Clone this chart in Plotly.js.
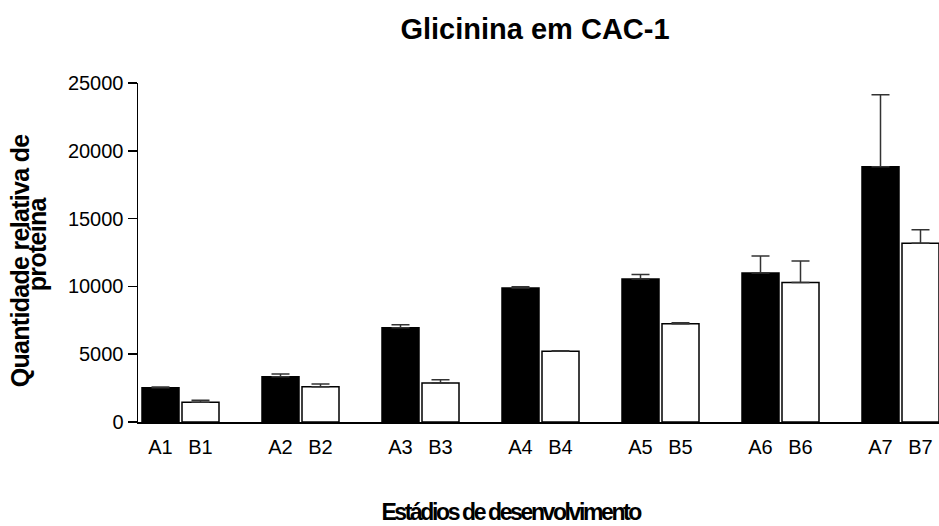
<!DOCTYPE html>
<html>
<head>
<meta charset="utf-8">
<script src="https://cdn.plot.ly/plotly-3.0.1.min.js"></script>
<style>
  html, body { margin: 0; padding: 0; background: #fff; }
  #chart { width: 939px; height: 526px; }
  /* tighter bold lettering for the axis titles */
  #chart g.annotation[data-index="0"] text,
  #chart g.annotation[data-index="1"] text { letter-spacing: -0.7px; }
  #chart g.annotation[data-index="2"] text { letter-spacing: -2.4px; }
</style>
</head>
<body>
<div id="chart"></div>
<script>
// Stage labels for the two series
const labelsA = ['A1', 'A2', 'A3', 'A4', 'A5', 'A6', 'A7'];
const labelsB = ['B1', 'B2', 'B3', 'B4', 'B5', 'B6', 'B7'];

// Relative protein amount (mean) and upper error (SEM)
const valuesA = [2530, 3340, 6950, 9880, 10550, 10990, 18830];
const errorsA = [60, 200, 225, 100, 320, 1250, 5300];
const valuesB = [1450, 2600, 2880, 5210, 7250, 10280, 13180];
const errorsB = [150, 200, 245, 50, 70, 1600, 1000];

// Y axis ticks
const yTicks = [0, 5000, 10000, 15000, 20000, 25000];

// Category order: A, B, then an empty spacer slot between stages
const categoryOrder = [];
labelsA.forEach((a, i) => {
  categoryOrder.push(a, labelsB[i]);
  if (i < labelsA.length - 1) categoryOrder.push('gap' + i);
});
const tickLabels = [];
labelsA.forEach((a, i) => tickLabels.push(a, labelsB[i]));

const FONT = '"Liberation Sans", Arial, Helvetica, sans-serif';
const errStyle = { type: 'data', symmetric: false, color: '#333', thickness: 1.5, width: 9 };

const traces = [
  {
    type: 'bar', x: labelsA, y: valuesA, width: 0.925,
    marker: { color: '#000', line: { color: '#000', width: 1.5 } },
    error_y: Object.assign({}, errStyle, { array: errorsA, arrayminus: labelsA.map(() => 0) }),
    hoverinfo: 'x+y'
  },
  {
    type: 'bar', x: labelsB, y: valuesB, width: 0.925,
    marker: { color: '#fff', line: { color: '#000', width: 1.5 } },
    error_y: Object.assign({}, errStyle, { array: errorsB, arrayminus: labelsB.map(() => 0) }),
    hoverinfo: 'x+y'
  }
];

const layout = {
  width: 939, height: 526,
  margin: { l: 138, r: 0, t: 83, b: 104, pad: 0 },
  paper_bgcolor: '#fff', plot_bgcolor: '#fff',
  showlegend: false,
  barmode: 'overlay',
  font: { family: FONT, color: '#000', size: 20 },
  title: {
    text: '<b>Glicinina em CAC-1</b>',
    font: { family: FONT, size: 29, color: '#000' },
    x: 535 / 939, xanchor: 'center', xref: 'container',
    y: 1 - 29 / 526, yanchor: 'middle', yref: 'container'
  },
  xaxis: {
    type: 'category',
    categoryorder: 'array', categoryarray: categoryOrder,
    range: [-0.5625, 19.4625],
    tickvals: tickLabels, ticktext: tickLabels,
    ticks: '', ticklabelstandoff: 6,
    showline: true, linecolor: '#000', linewidth: 2,
    showgrid: false, zeroline: false,
    tickfont: { size: 20 }
  },
  yaxis: {
    range: [0, 25000],
    tickvals: yTicks, ticktext: yTicks.map(String),
    ticks: 'outside', ticklen: 9, tickwidth: 1.5, tickcolor: '#000',
    showline: true, linecolor: '#000', linewidth: 1.5,
    showgrid: false, zeroline: false,
    tickfont: { size: 20 }
  },
  annotations: [
    {
      text: '<b>Quantidade relativa de</b>', textangle: -90,
      xref: 'paper', yref: 'paper', x: (20 - 138) / 801, y: (422 - 261) / 339,
      xanchor: 'center', yanchor: 'middle', showarrow: false,
      font: { family: FONT, size: 25, color: '#000' }
    },
    {
      text: '<b>proteína</b>', textangle: -90,
      xref: 'paper', yref: 'paper', x: (37 - 138) / 801, y: (422 - 244) / 339,
      xanchor: 'center', yanchor: 'middle', showarrow: false,
      font: { family: FONT, size: 25, color: '#000' }
    },
    {
      text: '<b>Estádios de desenvolvimento</b>',
      xref: 'paper', yref: 'paper', x: (510 - 138) / 801, y: (422 - 512) / 339,
      xanchor: 'center', yanchor: 'middle', showarrow: false,
      font: { family: FONT, size: 23, color: '#000' }
    }
  ]
};

Plotly.newPlot('chart', traces, layout, { displayModeBar: false, staticPlot: true });
</script>
</body>
</html>
